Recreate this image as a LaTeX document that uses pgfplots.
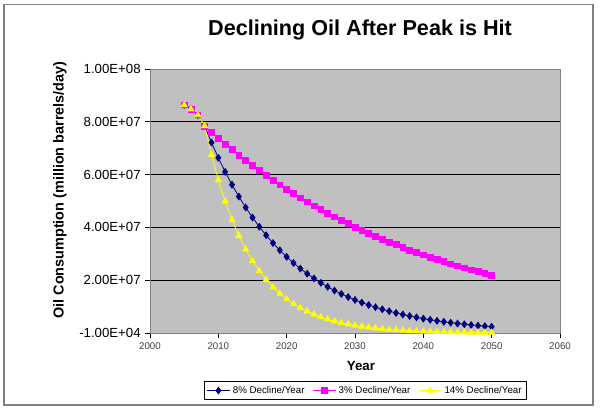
\documentclass[border=0pt]{standalone}
\usepackage{fontspec}
\setmainfont{Liberation Sans}
\usepackage{pgfplots}
\pgfplotsset{compat=1.18}
\usepackage{pgfplotstable}
\definecolor{plotbg}{HTML}{C0C0C0}
\definecolor{navyc}{HTML}{000080}
\definecolor{magc}{HTML}{FF00FF}
\definecolor{yelc}{HTML}{FFFF00}
\definecolor{framec}{HTML}{808080}

\pgfplotstableread{
year val
2005 86.4
2006 84.8
2007 82.6
2008 78.4
2009 72.13
2010 66.36
2011 61.05
2012 56.17
2013 51.67
2014 47.54
2015 43.74
2016 40.24
2017 37.02
2018 34.06
2019 31.33
2020 28.83
2021 26.52
2022 24.40
2023 22.45
2024 20.65
2025 19.00
2026 17.48
2027 16.08
2028 14.79
2029 13.61
2030 12.52
2031 11.52
2032 10.60
2033 9.75
2034 8.97
2035 8.25
2036 7.59
2037 6.99
2038 6.43
2039 5.91
2040 5.44
2041 5.00
2042 4.60
2043 4.24
2044 3.90
2045 3.59
2046 3.30
2047 3.03
2048 2.79
2049 2.57
2050 2.36
}\eightpct

\pgfplotstableread{
year val
2005 86.4
2006 84.8
2007 82.6
2008 78.4
2009 76.05
2010 73.77
2011 71.55
2012 69.41
2013 67.33
2014 65.31
2015 63.35
2016 61.45
2017 59.60
2018 57.81
2019 56.08
2020 54.40
2021 52.77
2022 51.18
2023 49.65
2024 48.16
2025 46.71
2026 45.31
2027 43.95
2028 42.63
2029 41.36
2030 40.11
2031 38.91
2032 37.74
2033 36.61
2034 35.51
2035 34.45
2036 33.41
2037 32.41
2038 31.44
2039 30.50
2040 29.58
2041 28.69
2042 27.83
2043 27.00
2044 26.19
2045 25.40
2046 24.64
2047 23.90
2048 23.18
2049 22.49
2050 21.81
}\threepct

\pgfplotstableread{
year val
2005 86.4
2006 84.8
2007 82.6
2008 78.4
2009 67.42
2010 57.99
2011 49.87
2012 42.89
2013 36.88
2014 31.72
2015 27.28
2016 23.46
2017 20.17
2018 17.35
2019 14.92
2020 12.83
2021 11.04
2022 9.49
2023 8.16
2024 7.02
2025 6.04
2026 5.19
2027 4.47
2028 3.84
2029 3.30
2030 2.84
2031 2.44
2032 2.10
2033 1.81
2034 1.55
2035 1.34
2036 1.15
2037 0.99
2038 0.85
2039 0.73
2040 0.63
2041 0.54
2042 0.47
2043 0.40
2044 0.34
2045 0.30
2046 0.25
2047 0.22
2048 0.19
2049 0.16
2050 0.14
}\fourteenpct

\begin{document}
\begin{tikzpicture}[x=1pt,y=1pt]
\useasboundingbox (0,0) rectangle (450,308.25);
\draw[framec, line width=1.1pt] (3,4.5) rectangle (444.75,304.9);
\begin{axis}[
  at={(112.5pt,58.5pt)}, anchor=south west,
  scale only axis, width=307.5pt, height=198pt,
  xmin=2000, xmax=2060, ymin=-0.01, ymax=100,
  xtick={2000,2010,...,2060},
  ytick={-0.01,20,40,60,80,100},
  yticklabels={-1.00E+04,2.00E+07,4.00E+07,6.00E+07,8.00E+07,1.00E+08},
  /pgf/number format/assume math mode=true,
  xticklabel={\pgfmathprintnumber[1000 sep={}]{\tick}},
  axis background/.style={fill=plotbg},
  axis line style={framec},
  ymajorgrids, major grid style={black, line width=0.6pt},
  tick align=outside, tick style={black, line width=0.5pt},
  major tick length=3.5pt,
  xtick pos=bottom, ytick pos=left,
  ticklabel style={font=\fontsize{7.3}{8}\selectfont},
  xticklabel style={text=black!75},
  yticklabel style={font=\fontsize{9.9}{11}\selectfont},
  clip=false,
  legend columns=3,
  legend style={at={(0.5255,-0.218)}, anchor=center, draw=black, line width=0.5pt,
     font=\fontsize{7.3}{8}\selectfont, inner sep=1.5pt,
     /tikz/every even column/.append style={column sep=4pt}},
  legend cell align=left,
]
\addplot[navyc, line width=0.6pt, mark=diamond*, mark size=2.5pt, mark options={fill=navyc, draw=navyc}] table[x=year,y=val] {\eightpct};
\addlegendentry{8\% Decline/Year}
\addplot[magc, line width=0.6pt, mark=square*, mark size=2.2pt, mark options={fill=magc, draw=magc}] table[x=year,y=val] {\threepct};
\addlegendentry{3\% Decline/Year}
\addplot[yelc, line width=0.6pt, mark=triangle*, mark size=2.6pt, mark options={fill=yelc, draw=yelc}] table[x=year,y=val] {\fourteenpct};
\addlegendentry{14\% Decline/Year}
\end{axis}
\node[font=\bfseries\fontsize{16.2}{19}\selectfont] at (270,285.75) {Declining Oil After Peak is Hit};
\node[font=\bfseries\fontsize{10.8}{12}\selectfont, rotate=90] at (45,165.75) {Oil Consumption (million barrels/day)};
\node[font=\bfseries\fontsize{10}{12}\selectfont] at (270.75,33.75) {Year};
\end{tikzpicture}
\end{document}
